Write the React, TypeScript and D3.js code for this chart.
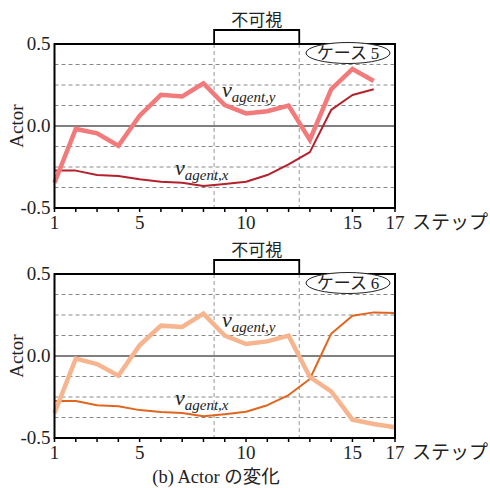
import React from "react";
import * as d3 from "d3";

// steps on the x axis
const steps = [1, 2, 3, 4, 5, 6, 7, 8, 9, 10, 11, 12, 13, 14, 15, 16, 17];
const xTickLabels = [1, 5, 10, 15, 17];
const yTickValues = [0.5, 0, -0.5];
const yTickLabels = ["0.5", "0.0", "-0.5"];
const gridValues = [0.375, 0.25, 0.125, -0.125, -0.25, -0.375];
const hiddenRange = [8.5, 12.5];

// case 5
const case5Vy = [-0.346, -0.018, -0.045, -0.12, 0.063, 0.19, 0.18, 0.26, 0.128, 0.077, 0.09, 0.124, -0.085, 0.224, 0.348, 0.274];
const case5Vx = [-0.272, -0.272, -0.299, -0.305, -0.325, -0.34, -0.346, -0.366, -0.354, -0.34, -0.299, -0.234, -0.159, 0.098, 0.189, 0.224];

// case 6
const case6Vy = [-0.348, -0.016, -0.049, -0.12, 0.065, 0.185, 0.177, 0.258, 0.124, 0.073, 0.089, 0.124, -0.128, -0.216, -0.388, -0.415, -0.435];
const case6Vx = [-0.274, -0.274, -0.3, -0.307, -0.33, -0.341, -0.348, -0.368, -0.355, -0.34, -0.3, -0.238, -0.14, 0.136, 0.246, 0.266, 0.262];

const serif = { fontFamily: "'Liberation Serif', 'Times New Roman', serif" };
const jp = { fontFamily: "'Noto Sans CJK JP', sans-serif" };

const x = d3.scaleLinear().domain([1, 17]).range([54.5, 395]);

function Panel({ top, vy, vx, thickColor, thinColor, caseLabel }) {
  const y = d3.scaleLinear().domain([-0.5, 0.5]).range([top + 164, top]);
  const line = d3
    .line<number>()
    .x((d, i) => x(steps[i]))
    .y(d => y(d));
  const [left, right] = x.range();
  const bottom = y(-0.5);

  return (
    <g>
      {gridValues.map(v => (
        <line key={v} x1={left} x2={right} y1={y(v)} y2={y(v)} stroke="#888" strokeWidth={1} strokeDasharray="4,3" />
      ))}
      {hiddenRange.map(s => (
        <line key={s} x1={x(s)} x2={x(s)} y1={top} y2={bottom} stroke="#999" strokeWidth={1} strokeDasharray="4,3" />
      ))}
      <line x1={left} x2={right} y1={y(0)} y2={y(0)} stroke="#000" strokeWidth={1} />

      <path d={line(vx)} fill="none" stroke={thinColor} strokeWidth={2} strokeLinejoin="round" />
      <path d={line(vy)} fill="none" stroke={thickColor} strokeWidth={4.5} />

      <rect x={left} y={top} width={right - left} height={bottom - top} fill="none" stroke="#000" strokeWidth={2} />
      {steps.map(s => (
        <line key={s} x1={x(s)} x2={x(s)} y1={bottom} y2={bottom + 4} stroke="#000" strokeWidth={1.5} />
      ))}

      {/* hidden bracket */}
      <path d={`M${x(hiddenRange[0])},${top} V${top - 14} H${x(hiddenRange[1])} V${top}`} fill="none" stroke="#000" strokeWidth={1.8} />
      <text x={(x(hiddenRange[0]) + x(hiddenRange[1])) / 2} y={top - 18} textAnchor="middle" style={jp} fontSize={17} fill="#222">
        不可視
      </text>

      {yTickValues.map((v, i) => (
        <text key={v} x={left - 4} y={y(v) + 6} textAnchor="end" style={serif} fontSize={19} fill="#222">
          {yTickLabels[i]}
        </text>
      ))}
      {xTickLabels.map(v => (
        <text key={v} x={x(v)} y={bottom + 21} textAnchor="middle" style={serif} fontSize={19} fill="#222">
          {v}
        </text>
      ))}
      <text x={x(17) + 17} y={bottom + 21} style={jp} fontSize={19} fill="#222">
        ステップ
      </text>
      <text transform={`translate(23,${y(0)}) rotate(-90)`} textAnchor="middle" style={serif} fontSize={19} fill="#222">
        Actor
      </text>

      {/* legend */}
      <ellipse cx={348} cy={top + 9} rx={42} ry={10.5} fill="#fff" stroke="#222" strokeWidth={1} />
      <text x={348} y={top + 15} textAnchor="middle" style={jp} fontSize={17} fill="#222">
        ケース <tspan style={serif}>{caseLabel}</tspan>
      </text>

      {/* series labels */}
      <text x={222} y={top + 53} style={serif} fontStyle="italic" fill="#222">
        <tspan fontSize={22}>v</tspan>
        <tspan fontSize={15} dy={5}>agent,y</tspan>
      </text>
      <text x={175} y={top + 131} style={serif} fontStyle="italic" fill="#222">
        <tspan fontSize={22}>v</tspan>
        <tspan fontSize={15} dy={5}>agent,x</tspan>
      </text>
    </g>
  );
}

export default function App() {
  return (
    <svg width={490} height={488} style={{ position: "absolute", left: 0, top: 0, background: "#fff" }}>
      <Panel top={44} vy={case5Vy} vx={case5Vx} thickColor="#f27a7a" thinColor="#b3222c" caseLabel="5" />
      <Panel top={274} vy={case6Vy} vx={case6Vx} thickColor="#f6b58e" thinColor="#e0661f" caseLabel="6" />
      <text x={216} y={483} textAnchor="middle" style={serif} fontSize={18.5} fill="#222">
        (b) Actor <tspan style={jp}>の変化</tspan>
      </text>
    </svg>
  );
}
